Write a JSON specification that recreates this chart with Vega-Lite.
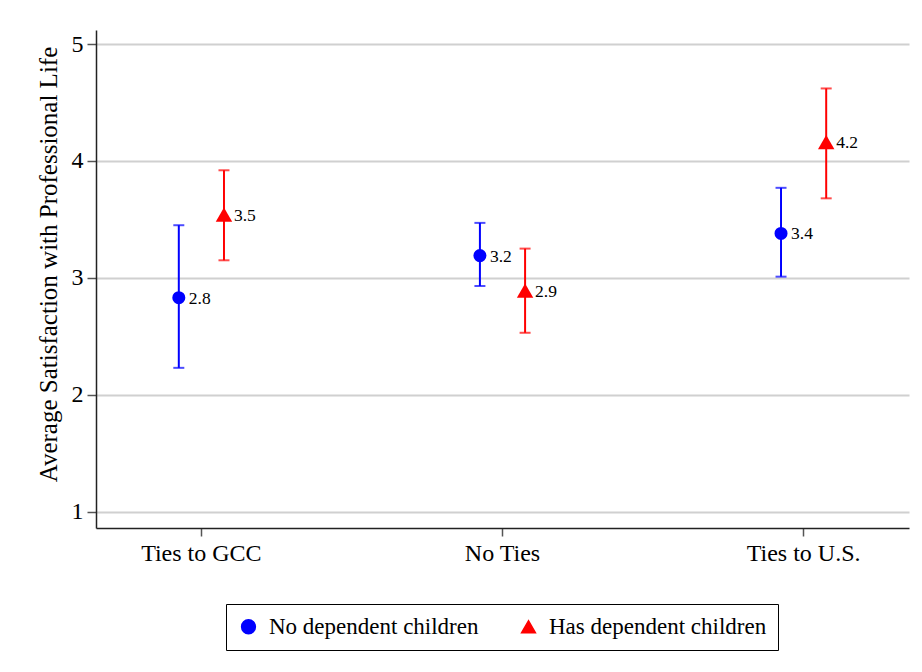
{
  "$schema": "https://vega.github.io/schema/vega-lite/v6.json",
  "width": 813,
  "height": 498,
  "autosize": {"type": "none"},
  "padding": {"left": 96, "top": 30, "right": 13, "bottom": 144},
  "background": "white",
  "config": {
    "view": {"stroke": null},
    "font": "Liberation Serif",
    "axis": {
      "labelFont": "Liberation Serif",
      "titleFont": "Liberation Serif",
      "labelColor": "black",
      "titleColor": "black",
      "domainColor": "#222222",
      "tickColor": "#555555",
      "domainWidth": 1.5,
      "tickWidth": 1.5
    },
    "legend": {
      "labelFont": "Liberation Serif",
      "labelFontSize": 23,
      "labelColor": "black",
      "labelLimit": 0,
      "title": null,
      "orient": "none",
      "legendX": 130,
      "legendY": 574,
      "direction": "horizontal",
      "columns": 2,
      "strokeColor": "black",
      "strokeWidth": 1,
      "fillColor": "white",
      "padding": 11,
      "labelOffset": 9,
      "symbolSize": 190,
      "columnPadding": 38,
      "symbolOpacity": 1
    }
  },
  "data": {
    "values": [
      {"cat": "Ties to GCC", "group": "No dependent children", "mean": 2.83, "lo": 2.23, "hi": 3.45},
      {"cat": "Ties to GCC", "group": "Has dependent children", "mean": 3.54, "lo": 3.15, "hi": 3.92},
      {"cat": "No Ties", "group": "No dependent children", "mean": 3.19, "lo": 2.93, "hi": 3.47},
      {"cat": "No Ties", "group": "Has dependent children", "mean": 2.89, "lo": 2.53, "hi": 3.25},
      {"cat": "Ties to U.S.", "group": "No dependent children", "mean": 3.38, "lo": 3.01, "hi": 3.77},
      {"cat": "Ties to U.S.", "group": "Has dependent children", "mean": 4.16, "lo": 3.68, "hi": 4.62}
    ]
  },
  "encoding": {
    "x": {
      "field": "cat",
      "type": "nominal",
      "sort": ["Ties to GCC", "No Ties", "Ties to U.S."],
      "scale": {"type": "band", "paddingInner": 0.7, "paddingOuter": 0.2},
      "axis": {
        "title": null,
        "labelAngle": 0,
        "labelFontSize": 24,
        "labelPadding": 5,
        "tickSize": 8,
        "grid": false
      }
    },
    "xOffset": {
      "field": "group",
      "type": "nominal",
      "sort": ["No dependent children", "Has dependent children"],
      "scale": {"paddingInner": 0, "paddingOuter": 0}
    }
  },
  "layer": [
    {
      "mark": {"type": "rule", "strokeWidth": 2},
      "encoding": {
        "y": {
          "field": "lo",
          "type": "quantitative",
          "scale": {"domain": [0.86, 5.12], "nice": false, "zero": false},
          "axis": {
            "title": "Average Satisfaction with Professional Life",
            "titleFontSize": 25,
            "titleFontWeight": "normal",
            "titleAngle": -90,
            "titleAlign": "center",
            "titleBaseline": "middle",
            "titleX": -48,
            "titleY": 234,
            "values": [1, 2, 3, 4, 5],
            "format": "d",
            "labelFontSize": 24,
            "labelPadding": 4,
            "tickSize": 9,
            "grid": true,
            "gridColor": "#d0d0d0",
            "gridWidth": 2
          }
        },
        "y2": {"field": "hi"},
        "color": {
          "field": "group",
          "type": "nominal",
          "scale": {"domain": ["No dependent children", "Has dependent children"], "range": ["#0000ff", "#ff0000"]}
        }
      }
    },
    {
      "mark": {"type": "tick", "thickness": 2, "size": 11},
      "encoding": {
        "y": {"field": "lo", "type": "quantitative"},
        "color": {"field": "group", "type": "nominal"}
      }
    },
    {
      "mark": {"type": "tick", "thickness": 2, "size": 11},
      "encoding": {
        "y": {"field": "hi", "type": "quantitative"},
        "color": {"field": "group", "type": "nominal"}
      }
    },
    {
      "transform": [{"filter": "datum.group === 'No dependent children'"}],
      "mark": {"type": "point", "filled": true, "opacity": 1, "size": 170},
      "encoding": {
        "y": {"field": "mean", "type": "quantitative"},
        "color": {"field": "group", "type": "nominal"},
        "shape": {
          "field": "group",
          "type": "nominal",
          "scale": {"domain": ["No dependent children", "Has dependent children"], "range": ["circle", "triangle-up"]}
        }
      }
    },
    {
      "transform": [{"filter": "datum.group === 'Has dependent children'"}],
      "mark": {"type": "point", "filled": true, "opacity": 1, "size": 270},
      "encoding": {
        "y": {"field": "mean", "type": "quantitative"},
        "color": {"field": "group", "type": "nominal"},
        "shape": {"field": "group", "type": "nominal"}
      }
    },
    {
      "mark": {"type": "text", "align": "left", "baseline": "middle", "dx": 10, "dy": 1, "fontSize": 17.5, "font": "Liberation Serif", "color": "black"},
      "encoding": {
        "y": {"field": "mean", "type": "quantitative"},
        "text": {"field": "mean", "type": "quantitative", "format": ".1f"}
      }
    }
  ]
}
